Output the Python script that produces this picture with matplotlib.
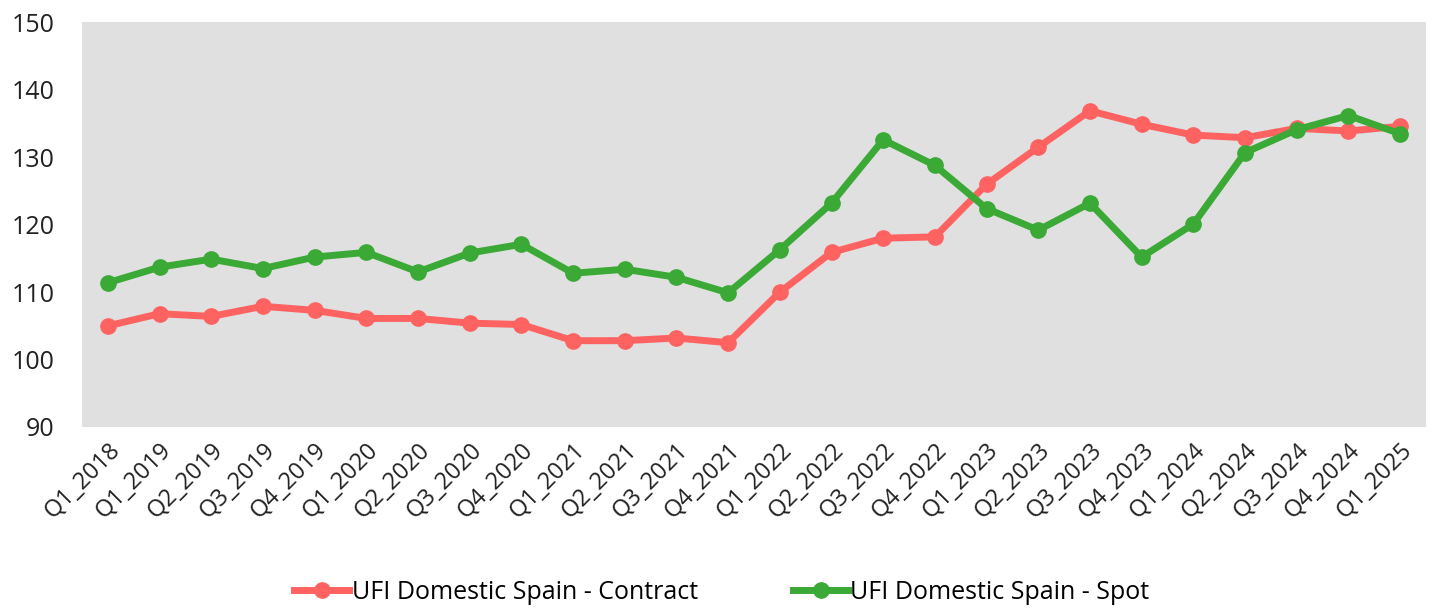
import matplotlib.pyplot as plt

quarters = ['Q1_2018', 'Q1_2019', 'Q2_2019', 'Q3_2019', 'Q4_2019', 'Q1_2020', 'Q2_2020',
            'Q3_2020', 'Q4_2020', 'Q1_2021', 'Q2_2021', 'Q3_2021', 'Q4_2021', 'Q1_2022',
            'Q2_2022', 'Q3_2022', 'Q4_2022', 'Q1_2023', 'Q2_2023', 'Q3_2023', 'Q4_2023',
            'Q1_2024', 'Q2_2024', 'Q3_2024', 'Q4_2024', 'Q1_2025']

contract = [105.0, 106.8, 106.4, 107.9, 107.3, 106.1, 106.1, 105.4, 105.2, 102.8, 102.8,
            103.2, 102.5, 110.0, 115.9, 118.0, 118.2, 126.0, 131.5, 136.9, 134.9, 133.3,
            132.9, 134.3, 133.9, 134.6]

spot = [111.4, 113.7, 114.9, 113.5, 115.2, 115.9, 113.0, 115.8, 117.1, 112.8, 113.4,
        112.2, 109.9, 116.3, 123.2, 132.6, 128.8, 122.4, 119.2, 123.2, 115.2, 120.1,
        130.7, 134.1, 136.2, 133.5]

plt.rcParams['font.family'] = ['Open Sans', 'DejaVu Sans']

fig = plt.figure(figsize=(14.44, 6.14), dpi=100)
ax = fig.add_axes([0.0568, 0.3046, 0.9307, 0.6588])
ax.set_facecolor('#e0e0e0')

x = list(range(len(quarters)))
ax.plot(x, contract, color='#ff6361', linewidth=5, marker='o', markersize=11,
        label='UFI Domestic Spain - Contract', zorder=3)
ax.plot(x, spot, color='#3aa935', linewidth=5, marker='o', markersize=11,
        label='UFI Domestic Spain - Spot', zorder=3)

ax.set_xlim(-0.5, 25.5)
ax.set_ylim(90, 150)
ax.set_yticks(range(90, 151, 10))
ax.set_xticks(x)
ax.set_xticklabels(quarters, rotation=45, ha='right', rotation_mode='anchor')
ax.tick_params(axis='both', length=0, colors='#222222')
ax.tick_params(axis='y', pad=20, labelsize=18)
ax.tick_params(axis='x', pad=8, labelsize=17)
for s in ax.spines.values():
    s.set_visible(False)

fig.legend(loc='lower center', bbox_to_anchor=(0.5, -0.022), ncol=2, frameon=False,
           fontsize=18, handlelength=2.2, handletextpad=0.1, columnspacing=3.8)

fig.savefig('out.png', dpi=100)
